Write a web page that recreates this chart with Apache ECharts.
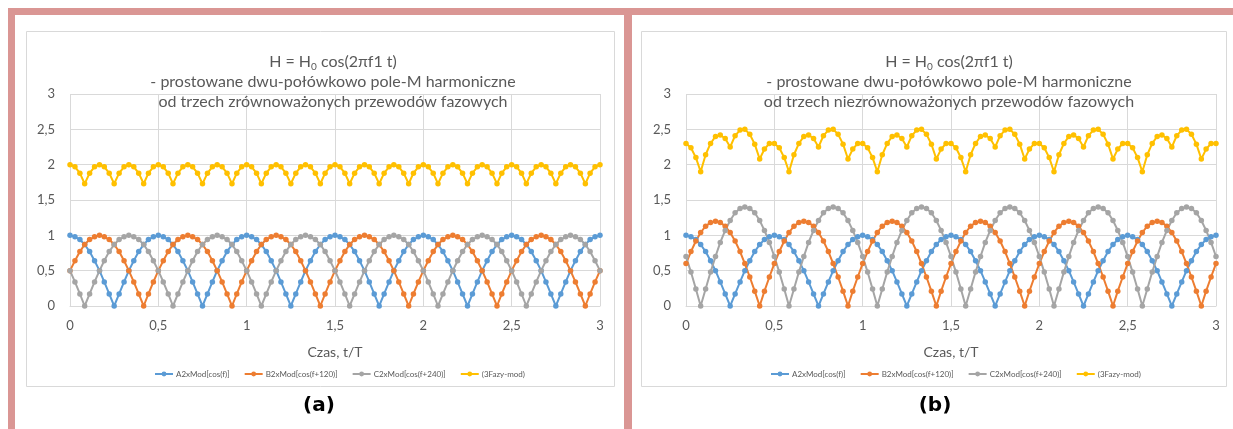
<!DOCTYPE html>
<html>
<head>
<meta charset="utf-8">
<script src="https://cdn.jsdelivr.net/npm/echarts@6/dist/echarts.min.js"></script>
<style>
html,body{margin:0;padding:0;background:#fff;}
#c{width:1233px;height:429px;}
</style>
</head>
<body>
<div id="c"></div>
<script>
// time t/T (step 1/36)
const times = [
0,0.028,0.056,0.083,0.111,0.139,0.167,0.194,0.222,0.25,0.278,0.306,0.333,0.361,0.389,0.417,0.444,0.472,
0.5,0.528,0.556,0.583,0.611,0.639,0.667,0.694,0.722,0.75,0.778,0.806,0.833,0.861,0.889,0.917,0.944,0.972,
1,1.028,1.056,1.083,1.111,1.139,1.167,1.194,1.222,1.25,1.278,1.306,1.333,1.361,1.389,1.417,1.444,1.472,
1.5,1.528,1.556,1.583,1.611,1.639,1.667,1.694,1.722,1.75,1.778,1.806,1.833,1.861,1.889,1.917,1.944,1.972,
2,2.028,2.056,2.083,2.111,2.139,2.167,2.194,2.222,2.25,2.278,2.306,2.333,2.361,2.389,2.417,2.444,2.472,
2.5,2.528,2.556,2.583,2.611,2.639,2.667,2.694,2.722,2.75,2.778,2.806,2.833,2.861,2.889,2.917,2.944,2.972,
3];

// panel (a) balanced
const aA = [
1,0.98,0.94,0.87,0.77,0.64,0.5,0.34,0.17,0,0.17,0.34,0.5,0.64,0.77,0.87,0.94,0.98,
1,0.98,0.94,0.87,0.77,0.64,0.5,0.34,0.17,0,0.17,0.34,0.5,0.64,0.77,0.87,0.94,0.98,
1,0.98,0.94,0.87,0.77,0.64,0.5,0.34,0.17,0,0.17,0.34,0.5,0.64,0.77,0.87,0.94,0.98,
1,0.98,0.94,0.87,0.77,0.64,0.5,0.34,0.17,0,0.17,0.34,0.5,0.64,0.77,0.87,0.94,0.98,
1,0.98,0.94,0.87,0.77,0.64,0.5,0.34,0.17,0,0.17,0.34,0.5,0.64,0.77,0.87,0.94,0.98,
1,0.98,0.94,0.87,0.77,0.64,0.5,0.34,0.17,0,0.17,0.34,0.5,0.64,0.77,0.87,0.94,0.98,
1];
const aB = [
0.5,0.64,0.77,0.87,0.94,0.98,1,0.98,0.94,0.87,0.77,0.64,0.5,0.34,0.17,0,0.17,0.34,
0.5,0.64,0.77,0.87,0.94,0.98,1,0.98,0.94,0.87,0.77,0.64,0.5,0.34,0.17,0,0.17,0.34,
0.5,0.64,0.77,0.87,0.94,0.98,1,0.98,0.94,0.87,0.77,0.64,0.5,0.34,0.17,0,0.17,0.34,
0.5,0.64,0.77,0.87,0.94,0.98,1,0.98,0.94,0.87,0.77,0.64,0.5,0.34,0.17,0,0.17,0.34,
0.5,0.64,0.77,0.87,0.94,0.98,1,0.98,0.94,0.87,0.77,0.64,0.5,0.34,0.17,0,0.17,0.34,
0.5,0.64,0.77,0.87,0.94,0.98,1,0.98,0.94,0.87,0.77,0.64,0.5,0.34,0.17,0,0.17,0.34,
0.5];
const aC = [
0.5,0.34,0.17,0,0.17,0.34,0.5,0.64,0.77,0.87,0.94,0.98,1,0.98,0.94,0.87,0.77,0.64,
0.5,0.34,0.17,0,0.17,0.34,0.5,0.64,0.77,0.87,0.94,0.98,1,0.98,0.94,0.87,0.77,0.64,
0.5,0.34,0.17,0,0.17,0.34,0.5,0.64,0.77,0.87,0.94,0.98,1,0.98,0.94,0.87,0.77,0.64,
0.5,0.34,0.17,0,0.17,0.34,0.5,0.64,0.77,0.87,0.94,0.98,1,0.98,0.94,0.87,0.77,0.64,
0.5,0.34,0.17,0,0.17,0.34,0.5,0.64,0.77,0.87,0.94,0.98,1,0.98,0.94,0.87,0.77,0.64,
0.5,0.34,0.17,0,0.17,0.34,0.5,0.64,0.77,0.87,0.94,0.98,1,0.98,0.94,0.87,0.77,0.64,
0.5];
const aSum = [
2,1.97,1.88,1.73,1.88,1.97,2,1.97,1.88,1.73,1.88,1.97,2,1.97,1.88,1.73,1.88,1.97,
2,1.97,1.88,1.73,1.88,1.97,2,1.97,1.88,1.73,1.88,1.97,2,1.97,1.88,1.73,1.88,1.97,
2,1.97,1.88,1.73,1.88,1.97,2,1.97,1.88,1.73,1.88,1.97,2,1.97,1.88,1.73,1.88,1.97,
2,1.97,1.88,1.73,1.88,1.97,2,1.97,1.88,1.73,1.88,1.97,2,1.97,1.88,1.73,1.88,1.97,
2,1.97,1.88,1.73,1.88,1.97,2,1.97,1.88,1.73,1.88,1.97,2,1.97,1.88,1.73,1.88,1.97,
2,1.97,1.88,1.73,1.88,1.97,2,1.97,1.88,1.73,1.88,1.97,2,1.97,1.88,1.73,1.88,1.97,
2];

// panel (b) unbalanced
const bA = [
1,0.98,0.94,0.87,0.77,0.64,0.5,0.34,0.17,0,0.17,0.34,0.5,0.64,0.77,0.87,0.94,0.98,
1,0.98,0.94,0.87,0.77,0.64,0.5,0.34,0.17,0,0.17,0.34,0.5,0.64,0.77,0.87,0.94,0.98,
1,0.98,0.94,0.87,0.77,0.64,0.5,0.34,0.17,0,0.17,0.34,0.5,0.64,0.77,0.87,0.94,0.98,
1,0.98,0.94,0.87,0.77,0.64,0.5,0.34,0.17,0,0.17,0.34,0.5,0.64,0.77,0.87,0.94,0.98,
1,0.98,0.94,0.87,0.77,0.64,0.5,0.34,0.17,0,0.17,0.34,0.5,0.64,0.77,0.87,0.94,0.98,
1,0.98,0.94,0.87,0.77,0.64,0.5,0.34,0.17,0,0.17,0.34,0.5,0.64,0.77,0.87,0.94,0.98,
1];
const bB = [
0.6,0.77,0.92,1.04,1.13,1.18,1.2,1.18,1.13,1.04,0.92,0.77,0.6,0.41,0.21,0,0.21,0.41,
0.6,0.77,0.92,1.04,1.13,1.18,1.2,1.18,1.13,1.04,0.92,0.77,0.6,0.41,0.21,0,0.21,0.41,
0.6,0.77,0.92,1.04,1.13,1.18,1.2,1.18,1.13,1.04,0.92,0.77,0.6,0.41,0.21,0,0.21,0.41,
0.6,0.77,0.92,1.04,1.13,1.18,1.2,1.18,1.13,1.04,0.92,0.77,0.6,0.41,0.21,0,0.21,0.41,
0.6,0.77,0.92,1.04,1.13,1.18,1.2,1.18,1.13,1.04,0.92,0.77,0.6,0.41,0.21,0,0.21,0.41,
0.6,0.77,0.92,1.04,1.13,1.18,1.2,1.18,1.13,1.04,0.92,0.77,0.6,0.41,0.21,0,0.21,0.41,
0.6];
const bC = [
0.7,0.48,0.24,0,0.24,0.48,0.7,0.9,1.07,1.21,1.32,1.38,1.4,1.38,1.32,1.21,1.07,0.9,
0.7,0.48,0.24,0,0.24,0.48,0.7,0.9,1.07,1.21,1.32,1.38,1.4,1.38,1.32,1.21,1.07,0.9,
0.7,0.48,0.24,0,0.24,0.48,0.7,0.9,1.07,1.21,1.32,1.38,1.4,1.38,1.32,1.21,1.07,0.9,
0.7,0.48,0.24,0,0.24,0.48,0.7,0.9,1.07,1.21,1.32,1.38,1.4,1.38,1.32,1.21,1.07,0.9,
0.7,0.48,0.24,0,0.24,0.48,0.7,0.9,1.07,1.21,1.32,1.38,1.4,1.38,1.32,1.21,1.07,0.9,
0.7,0.48,0.24,0,0.24,0.48,0.7,0.9,1.07,1.21,1.32,1.38,1.4,1.38,1.32,1.21,1.07,0.9,
0.7];
const bSum = [
2.3,2.24,2.1,1.9,2.14,2.3,2.4,2.42,2.37,2.25,2.41,2.49,2.5,2.43,2.29,2.08,2.22,2.3,
2.3,2.24,2.1,1.9,2.14,2.3,2.4,2.42,2.37,2.25,2.41,2.49,2.5,2.43,2.29,2.08,2.22,2.3,
2.3,2.24,2.1,1.9,2.14,2.3,2.4,2.42,2.37,2.25,2.41,2.49,2.5,2.43,2.29,2.08,2.22,2.3,
2.3,2.24,2.1,1.9,2.14,2.3,2.4,2.42,2.37,2.25,2.41,2.49,2.5,2.43,2.29,2.08,2.22,2.3,
2.3,2.24,2.1,1.9,2.14,2.3,2.4,2.42,2.37,2.25,2.41,2.49,2.5,2.43,2.29,2.08,2.22,2.3,
2.3,2.24,2.1,1.9,2.14,2.3,2.4,2.42,2.37,2.25,2.41,2.49,2.5,2.43,2.29,2.08,2.22,2.3,
2.3];

const seriesNames = ['A2xMod[cos(f)]', 'B2xMod[cos(f+120)]', 'C2xMod[cos(f+240)]', '(3Fazy-mod)'];
const colors = ['#5B9BD5', '#ED7D31', '#A5A5A5', '#FFC000'];
const titleLine1 = 'H = H{sub|0} cos(2πf1 t)';
const titleLine2 = '- prostowane dwu-połówkowo pole-M harmoniczne';
const titleLineA = 'od trzech zrównoważonych przewodów fazowych';
const titleLineB = 'od trzech niezrównoważonych przewodów fazowych';
const axisTitle = 'Czas, t/T';
const panelLabels = ['(a)', '(b)'];

const FONT = 'Lato, "Open Sans", sans-serif';
const TXT = '#595959';
const GRID = '#D9D9D9';
const comma = v => String(v).replace('.', ',');

function pairs(ys) { return times.map((t, i) => [t, ys[i]]); }

function mkSeries(idx, arr) {
  return arr.map((ys, i) => ({
    name: seriesNames[i], type: 'line', xAxisIndex: idx, yAxisIndex: idx,
    data: pairs(ys), symbol: 'circle', symbolSize: 5.5, showSymbol: true,
    color: colors[i], lineStyle: { width: 2, color: colors[i] },
    itemStyle: { color: colors[i] }, animation: false, emphasis: { disabled: true }
  }));
}

function xAx(idx) {
  return {
    type: 'value', gridIndex: idx, min: 0, max: 3, interval: 0.5,
    axisLine: { show: true, lineStyle: { color: GRID, width: 1 } },
    axisTick: { show: false },
    splitLine: { show: true, lineStyle: { color: GRID, width: 1 } },
    axisLabel: { color: TXT, fontFamily: FONT, fontSize: 13, margin: 13, formatter: comma },
    name: axisTitle, nameLocation: 'middle', nameGap: 39,
    nameTextStyle: { color: TXT, fontFamily: FONT, fontSize: 14 }
  };
}
function yAx(idx) {
  return {
    type: 'value', gridIndex: idx, min: 0, max: 3, interval: 0.5,
    axisLine: { show: false }, axisTick: { show: false },
    splitLine: { show: true, lineStyle: { color: GRID, width: 1 } },
    axisLabel: { color: TXT, fontFamily: FONT, fontSize: 13, margin: 15, formatter: comma }
  };
}
function mkTitle(cx, line3) {
  return {
    text: titleLine1 + '\n' + titleLine2 + '\n' + line3,
    left: cx, top: 47, textAlign: 'center',
    textStyle: {
      color: TXT, fontFamily: FONT, fontSize: 16, fontWeight: 'normal', lineHeight: 20,
      rich: { sub: { fontSize: 10, color: TXT, fontFamily: FONT, verticalAlign: 'bottom', lineHeight: 14 } }
    }
  };
}
function mkLegend(left) {
  return {
    left: left, top: 365, itemWidth: 18, itemHeight: 6, itemGap: 14,
    data: seriesNames, selectedMode: false,
    textStyle: { color: TXT, fontFamily: FONT, fontSize: 8, padding: [0, 0, 0, -2] }
  };
}

const PINK = '#DA9694';
const LABEL_FONT = 'bold 20px "DejaVu Sans", sans-serif';
const option = {
  backgroundColor: '#fff',
  animation: false,
  title: [mkTitle(328, titleLineA), mkTitle(944, titleLineB)],
  legend: [mkLegend(149), mkLegend(765)],
  grid: [
    { left: 70, top: 94, width: 530, height: 212 },
    { left: 686, top: 94, width: 530, height: 212 }
  ],
  xAxis: [xAx(0), xAx(1)],
  yAxis: [yAx(0), yAx(1)],
  series: mkSeries(0, [aA, aB, aC, aSum]).concat(mkSeries(1, [bA, bB, bC, bSum])),
  graphic: [
    { type: 'rect', shape: { x: 8, y: 8, width: 1225, height: 7 }, style: { fill: PINK }, silent: true },
    { type: 'rect', shape: { x: 8, y: 8, width: 7, height: 421 }, style: { fill: PINK }, silent: true },
    { type: 'rect', shape: { x: 624, y: 8, width: 8, height: 421 }, style: { fill: PINK }, silent: true },
    { type: 'rect', shape: { x: 26.5, y: 31.5, width: 588, height: 355 }, style: { fill: 'none', stroke: GRID, lineWidth: 1 }, silent: true, z: -1 },
    { type: 'rect', shape: { x: 641.5, y: 31.5, width: 585, height: 355 }, style: { fill: 'none', stroke: GRID, lineWidth: 1 }, silent: true, z: -1 },
    { type: 'text', x: 319, y: 406, style: { text: panelLabels[0], font: LABEL_FONT, fill: '#000', align: 'center', verticalAlign: 'middle' }, silent: true },
    { type: 'text', x: 935, y: 406, style: { text: panelLabels[1], font: LABEL_FONT, fill: '#000', align: 'center', verticalAlign: 'middle' }, silent: true }
  ]
};
echarts.init(document.getElementById('c'), null, { renderer: 'canvas' }).setOption(option);
</script>
</body>
</html>
